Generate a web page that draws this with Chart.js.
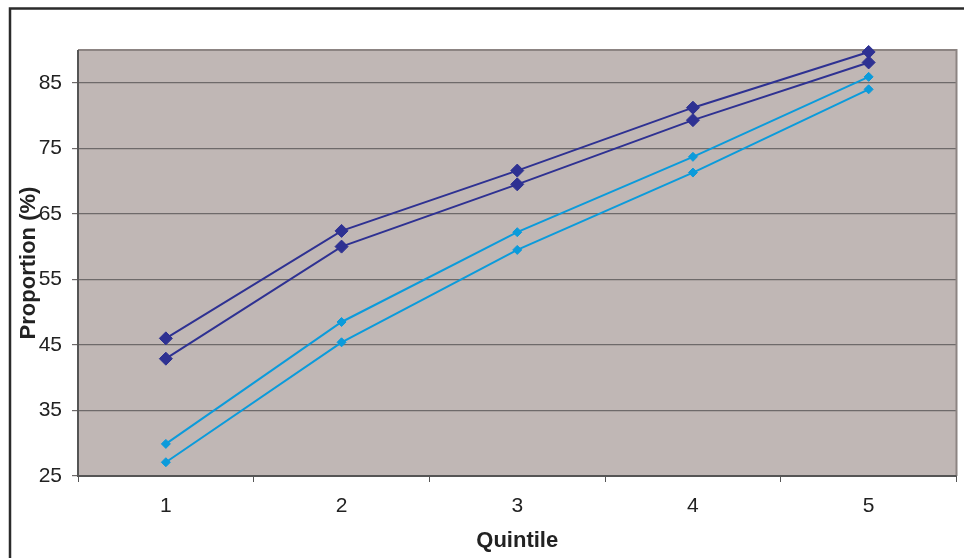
<!DOCTYPE html>
<html>
<head>
<meta charset="utf-8">
<script src="https://cdn.jsdelivr.net/npm/chart.js@4"></script>
<style>
  html, body { margin: 0; padding: 0; background: #fff; }
  #wrap { width: 964px; height: 558px; }
</style>
</head>
<body>
<div id="wrap"><canvas id="quintileChart" width="964" height="558"></canvas></div>
<script>
// quintile data
var quintiles = ["1", "2", "3", "4", "5"];
var darkUpper = [46.0, 62.4, 71.6, 81.2, 89.7];
var darkLower = [42.9, 60.0, 69.5, 79.3, 88.1];
var lightUpper = [29.9, 48.5, 62.2, 73.7, 85.9];
var lightLower = [27.1, 45.4, 59.5, 71.3, 84.0];
var yTicks = [25, 35, 45, 55, 65, 75, 85];

var navy = "#2E3192";
var sky = "#0B9BDB";
var fontFam = "'Liberation Sans', Arial, sans-serif";

// plot background, plot border, outer frame, y title
var frame = {
    id: 'frame',
    beforeDraw: function(chart) {
        var c = chart.ctx, a = chart.chartArea;
        c.save();
        c.fillStyle = "#C0B7B5";
        c.fillRect(a.left, a.top, a.right - a.left, a.bottom - a.top);
        c.restore();
    },
    beforeDatasetsDraw: function(chart) {
        var c = chart.ctx, a = chart.chartArea;
        c.save();
        c.strokeStyle = "#8C8482";
        c.lineWidth = 2;
        c.beginPath();
        c.moveTo(a.left, a.top);
        c.lineTo(a.right, a.top);
        c.lineTo(a.right, a.bottom);
        c.stroke();
        c.strokeStyle = "#555";
        c.beginPath();
        c.moveTo(a.left, a.top);
        c.lineTo(a.left, a.bottom);
        c.lineTo(a.right, a.bottom);
        c.stroke();
        c.restore();
    },
    afterDraw: function(chart) {
        var c = chart.ctx, a = chart.chartArea;
        c.save();
        // outer frame
        c.strokeStyle = "#2b2b2b";
        c.lineWidth = 2.5;
        c.beginPath();
        c.moveTo(10, 600);
        c.lineTo(10, 8.5);
        c.lineTo(1000, 8.5);
        c.stroke();
        // y title
        c.translate(29, (a.top + a.bottom) / 2);
        c.rotate(-Math.PI / 2);
        c.fillStyle = "#222";
        c.font = "bold 22px " + fontFam;
        c.textAlign = "center";
        c.textBaseline = "middle";
        c.fillText("Proportion (%)", 0, 0);
        c.restore();
    }
};

function series(label, data, color, r) {
    return {
        label: label,
        data: data,
        borderColor: color,
        backgroundColor: color,
        borderWidth: 2,
        pointStyle: 'rectRot',
        pointRadius: r,
        pointHoverRadius: r,
        pointBorderWidth: 1,
        clip: false,
        tension: 0
    };
}

var ctx = document.getElementById("quintileChart").getContext('2d');
var myChart = new Chart(ctx, {
    type: 'line',
    data: {
        labels: quintiles,
        datasets: [
            series("Dark upper", darkUpper, navy, 6.5),
            series("Dark lower", darkLower, navy, 6.5),
            series("Light upper", lightUpper, sky, 4.5),
            series("Light lower", lightLower, sky, 4.5)
        ]
    },
    options: {
        responsive: false,
        animation: false,
        layout: { padding: { top: 50, right: 7, left: 0, bottom: 0 } },
        plugins: {
            legend: { display: false },
            tooltip: { enabled: false }
        },
        scales: {
            x: {
                offset: true,
                grid: { offset: true, drawOnChartArea: false, color: "#555", tickLength: 6 },
                border: { display: false },
                ticks: {
                    color: "#222",
                    padding: 12,
                    font: { family: fontFam, size: 21 }
                },
                title: {
                    display: true,
                    text: "Quintile",
                    color: "#222",
                    padding: { top: 2, bottom: 4 },
                    font: { family: fontFam, size: 22, weight: 'bold' }
                },
                afterFit: function(scale) { scale.height = 82; }
            },
            y: {
                min: 25,
                max: 90,
                grid: { color: "#6E6A6A", lineWidth: 1.2, tickLength: 6 },
                border: { display: false },
                ticks: {
                    color: "#222",
                    padding: 10,
                    font: { family: fontFam, size: 21 }
                },
                afterBuildTicks: function(scale) {
                    scale.ticks = yTicks.map(function(v) { return { value: v }; });
                },
                afterFit: function(scale) { scale.width = 78; }
            }
        }
    },
    plugins: [frame]
});
</script>
</body>
</html>
